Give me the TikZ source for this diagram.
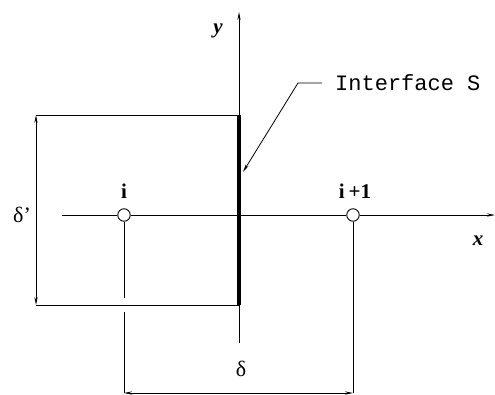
\documentclass[tikz,border=0pt]{standalone}
\usepackage{fontspec}
\setmainfont{Liberation Serif}
\newfontfamily\monofont{Liberation Mono}
\usetikzlibrary{arrows.meta}
\tikzset{
  thin line/.style={line width=0.8pt},
  tip/.style={-{Stealth[length=8pt,width=3.2pt]}},
  both tips/.style={{Stealth[length=8pt,width=3.2pt]}-{Stealth[length=8pt,width=3.2pt]}},
  cell/.style={circle,draw,fill=white,inner sep=0pt,minimum size=12.5pt,line width=0.9pt},
  lbl/.style={inner sep=0pt,font=\fontsize{22}{24}\selectfont},
  bl/.style={inner sep=0pt,font=\bfseries\fontsize{21}{24}\selectfont},
  bil/.style={inner sep=0pt,font=\bfseries\itshape\fontsize{21}{24}\selectfont},
  mono/.style={inner sep=0pt,font=\monofont\fontsize{22}{24}\selectfont}
}
\begin{document}
\begin{tikzpicture}[x=1pt,y=-1pt]
\useasboundingbox (0,0) rectangle (495,394);
% coordinates
\coordinate (xs) at (62,215);
\coordinate (xe) at (495,215);
\coordinate (ys) at (239,343);
\coordinate (ye) at (239,12);
\coordinate (tl) at (36,115);
\coordinate (bl) at (36,305);
\coordinate (tr) at (239,115);
\coordinate (br) at (239,305);
\coordinate (ia) at (124,298);
\coordinate (ib) at (124,312);
\coordinate (ic) at (124,393);
\coordinate (jc) at (353,393);
\coordinate (knee) at (298,83);
\coordinate (tipS) at (243,172);
% nodes
\node[cell] (ni) at (124,215) {};
\node[cell] (nip) at (353,215) {};
\node[bl] (li) at (124,191) {i};
\node[bl] (lip) at (355,191) {i\hspace{4pt}+1};
\node[bil] (ly) at (218,31) {y};
\node[bil] (lx) at (478,241) {x};
\node[lbl] (ldp) at (22,215) {δ’};
\node[lbl] (ld) at (241,369) {δ};
\node[mono,anchor=west] (lS) at (335,83) {Interface S};
% axes
\draw[thin line] (xs) -- (ni) (ni) -- (nip);
\draw[thin line,tip] (nip) -- (xe);
\draw[thin line,tip] (ys) -- (ye);
% box
\draw[thin line] (tl) -- (tr);
\draw[thin line] (bl) -- (br);
\draw[line width=4pt] (tr) -- (br);
% dimension delta'
\draw[thin line,both tips] (tl) -- (bl);
% extension lines
\draw[thin line] (ni) -- (ia);
\draw[thin line] (ib) -- (ic);
\draw[thin line] (nip) -- (jc);
% dimension delta
\draw[thin line,both tips] (ic) -- (jc);
% leader
\draw[thin line,tip] ([xshift=-13pt]lS.west) -- (knee) -- (tipS);
\end{tikzpicture}
\end{document}
